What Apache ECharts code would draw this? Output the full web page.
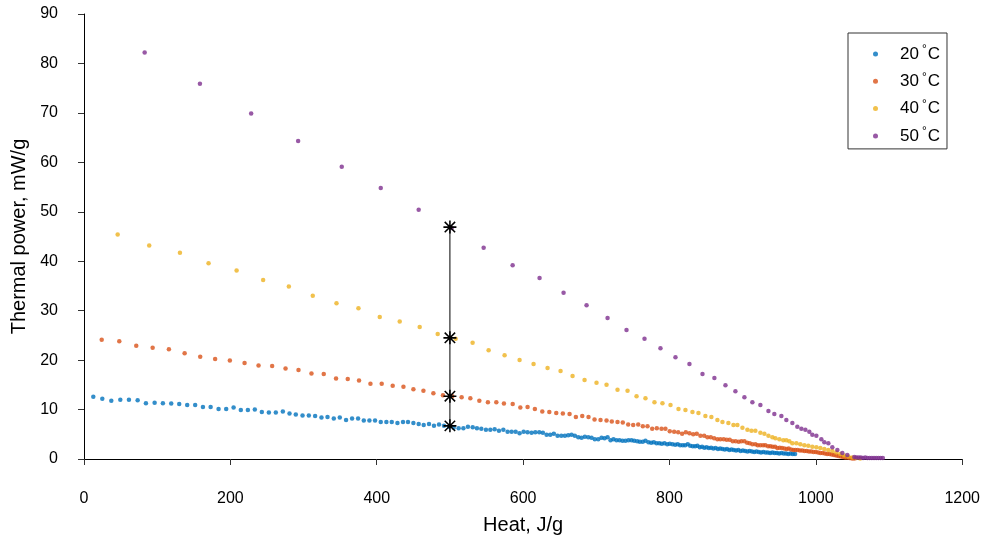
<!DOCTYPE html>
<html>
<head>
<meta charset="utf-8">
<style>
html,body{margin:0;padding:0;background:#fff;}
#chart{width:983px;height:541px;}
</style>
<script src="https://cdn.jsdelivr.net/npm/echarts@6/dist/echarts.min.js"></script>
</head>
<body>
<div id="chart"></div>
<script>
// ---- data (Heat J/g, Thermal power mW/g) ----
const seriesNames = ['20°C', '30°C', '40°C', '50°C'];
const xTicks = [0, 200, 400, 600, 800, 1000, 1200];
const yTicks = [0, 10, 20, 30, 40, 50, 60, 70, 80, 90];

const data20 = [[12.7,12.6],[25.0,12.2],[37.3,11.8],[49.6,12.0],[61.4,12.0],[73.3,11.9],[84.6,11.3],[96.5,11.4],[107.8,11.3],[119.2,11.2],[130.1,11.1],[141,10.9],[151.9,10.9],[162.5,10.5],[173,10.5],[183.9,10.1],[194.3,10.1],[204.4,10.4],[214.3,9.9],[223.9,9.9],[233.4,10.0],[243,9.5],[252.6,9.4],[262.1,9.4],[271.7,9.6],[280.8,9.2],
[289.4,9.0],[298.6,8.8],[307.2,8.8],[315.8,8.7],[324.5,8.4],[332.7,8.5],[341.3,8.2],[349.5,8.4],[358.1,7.9],[366.3,8.2],[374.5,8.2],[382.3,7.8],[390,7.8],[397.7,7.8],[405.5,7.5],[413.2,7.5],[420.5,7.5],[428.3,7.3],[435.9,7.5],[442.7,7.5],[450.1,7.3],[457.3,7.1],[464.2,6.9],[471.4,7.1],[478.2,6.7],[485.1,7.0],[491.9,6.7],[498.7,6.5],[505.1,6.3],[511.9,6.2],[518.4,6.2],[524.6,6.5],[531.1,6.4],[536.9,6.2],[542.9,6.1],[549.2,5.9],[555.2,5.9],[561.1,6.0],[567,5.7],[573,5.9],
[578.8,5.5],[584.3,5.5],[589.8,5.5],[595.2,5.2],[600.7,5.5],[606.1,5.4],[611.6,5.3],[616.7,5.4],[622.1,5.4],[627,5.3],[632.1,4.9],[637.1,4.9],[642,5.1],[647.1,4.7],[652.2,4.7],[657.1,4.7],[661.7,4.8],[666.2,4.9],[670.7,4.7],[675.4,4.4],[679.9,4.3],[684.4,4.5],[689,4.4],[693.5,4.3],[698,4.0],[702.7,4.0],[707.2,4.3],[711.3,4.2],[715.4,4.4],[719.5,3.8],[723.5,4.0],[727.6,3.8],[731.7,3.8],[735.8,3.7],[739.9,3.7],[744,3.8],[748.1,3.8],[751.8,3.7],[755.9,3.6],[759.5,3.5],[763.5,3.5],[767.2,3.7],[771.3,3.4],[775,3.3],[778.6,3.4],[782.3,3.2],[786,3.2],[789.5,3.1],[793.2,3.2],[796.9,3.0],[800.4,3.1],[804.1,3.0],[807.8,2.9],[811.3,3.0],[814.6,2.8],[818.2,2.8],[821.4,2.8],[825,3.0],[828.3,2.7],[831.8,2.6],[835.1,2.6],[838.2,2.7],[841.4,2.4],
[844.5,2.5],[847.6,2.3],[850.7,2.4],[853.8,2.2],[856.9,2.3],[860,2.1],[863.1,2.2],[866.2,2.0],[869.3,2.1],[872.4,2.0],[875.5,1.9],[878.6,2.0],[881.7,1.8],[884.8,1.9],[887.9,1.8],[891,1.7],[894.1,1.8],[897.2,1.6],[900.3,1.7],[903.4,1.6],[906.5,1.5],[909.6,1.6],[912.7,1.5],[915.8,1.4],[918.9,1.5],[922,1.4],[925.1,1.3],[928.2,1.4],[931.3,1.3],[934.4,1.3],[937.5,1.2],[940.6,1.3],[943.7,1.2],[946.8,1.2],[949.9,1.1],[953,1.2],[956.1,1.1],[959.2,1.1],[962.3,1.0],[965.4,1.1],[968.5,1.0],[971.6,1.0]];

const data30 = [[24.2,24.1],[48.2,23.8],[71.4,22.9],[93.8,22.5],[116,22.2],[137.5,21.4],[158.8,20.7],[179.2,20.2],[199.3,19.9],[219.4,19.4],[238.5,18.9],[257.1,18.8],[275.4,18.3],[293.1,18.0],[310.8,17.3],[327.6,17.2],[344.4,16.3],[360.4,16.2],[375.8,15.9],[391.4,15.2],[406.8,15.2],[421.8,14.8],[436.5,14.6],[450.1,14.1],[463.8,13.8],[477.4,13.3],[490.5,12.9],[503.3,12.7],[516,12.5],[527.9,12.3],[540.2,11.8],[551.9,11.5],[563.4,11.5],[573.8,11.2],[585.8,11.1],[596.2,10.4],[606.1,10.5],[616.1,10.1],[626.2,9.6],[635.8,9.5],[645.3,9.3],[654.3,9.2],[663.5,9.1],[672.1,8.5],[680.8,8.7],[689.4,8.5],[697.6,8.0],[705.8,7.9],[714,7.8],[721.2,7.6],[729,7.5],[736.2,7.4],[743.6,7.0],[750.4,6.9],[757.3,7.0],[763.6,6.6],[770,6.6],[776.4,6.1],[782.7,6.2],[789.1,6.1],[794.5,6.1],[800.4,5.6],[806.4,5.5],[811.9,5.4],[817.3,5.1],[822.3,5.4],[827.3,5.2],[832.4,5.0],[837.3,5.1],[842.3,4.7],[847.4,4.7],[851.9,4.4],[856.4,4.4],[861,4.2],[865.5,4.0],[869.6,4.0],[874.1,4.0],[878.2,3.9],[882.3,3.9],[886.4,3.6],[890.5,3.6],[894.6,3.5],[898.3,3.6],[902.4,3.6],[906.1,3.3],[909.6,3.2],[913.3,3.0],[917.4,3.0],[920.6,2.8],[924.2,2.8],[927.9,2.8],[931.1,2.8],[934.7,2.6],[937.9,2.6],[941,2.5],[944.3,2.5],[947.4,2.2],[950.6,2.3],[953.8,2.2],[957,2.1],[960.1,2.0],[962.9,2.1],[966.1,1.9],[969.3,1.8],[972,1.8],[975.2,1.8],[978.3,1.7],[981.4,1.7],[984.5,1.6],[987.6,1.6],[990.7,1.5],[993.8,1.5],[996.9,1.4],[1000,1.4],[1003.1,1.3],[1006.2,1.2],[1009.3,1.2],[1012.4,1.1],[1015.5,1.0],[1018.6,1.0],[1021.7,0.9],[1024.8,0.8],[1027.9,0.7],[1031,0.6],[1034.1,0.5],[1037.2,0.4],[1040.3,0.3],[1043.4,0.3],[1046.5,0.2],[1049.6,0.1],[1052.7,0.1]];

const data40 = [[46.0,45.4],[89.1,43.2],[131.1,41.7],[170.2,39.6],[208.5,38.1],[244.8,36.2],[279.9,34.9],[312.6,33.0],[345.0,31.5],[375.0,30.5],[404.1,28.7],[431.4,27.8],[458.7,26.7],[483.3,25.3],[507.8,24.3],[531,23.5],[552.9,22.0],[574.7,21.0],[595.2,20.0],[614.3,19.2],[633.4,18.4],[651.2,17.8],[667.6,16.8],[684,16.0],[700.3,15.4],[714,15.0],[729,14.0],[742.7,13.8],[755,12.7],[767.2,12.3],[779.5,11.5],[790.4,11.3],[801.4,10.9],[812.3,10.1],[821.8,9.9],[831.4,9.5],[839.6,9.3],[849.1,8.7],[857.3,8.5],[865.5,7.9],[872.4,7.5],[880.5,7.3],[887.4,6.9],[892.8,6.9],[899.7,6.3],[906.5,5.9],[912,5.7],[917.4,5.7],[924.2,5.3],[929.7,5.1],[935.2,4.7],[940.6,4.4],[944.7,4.2],[950.2,4.0],[955.6,3.8],[959.7,3.8],[963.8,3.6],[967.9,3.2],[973.4,3.2],[978.8,3.0],[984.3,2.8],[989.7,2.7],[995.2,2.5],[1000.7,2.4],[1006.1,2.2],[1011.6,2.0],[1017,1.8],[1022.5,1.6],[1027.9,1.3],[1033.4,1.0],[1038.8,0.7],[1044.3,0.5],[1049.7,0.3],[1055.2,0.2],[1060.6,0.1]];

const data50 = [[82.9,82.2],[158.4,75.9],[228.4,69.9],[292.6,64.3],[352.2,59.1],[405.5,54.8],[457.3,50.4],[502.4,46.7],[546.1,42.7],[585.7,39.2],[622.5,36.6],[655.3,33.6],[686.7,31.1],[715.4,28.5],[741.3,26.1],[765.9,24.3],[787.7,22.4],[808.2,20.6],[827.3,19.2],[845.1,17.2],[861.4,16.4],[876.5,14.9],[890.1,13.7],[902.4,12.5],[913.3,11.5],[924.2,10.9],[935.2,9.7],[943.3,9.1],[952.9,8.7],[959.7,7.9],[967.9,7.3],[974.7,6.5],[980.2,6.1],[985.7,5.9],[991.1,5.5],[995.2,4.9],[1000.7,4.7],[1007.5,4.0],[1011.6,3.4],[1017.1,3.2],[1022.5,2.4],[1029.4,1.8],[1036.2,1.2],[1043,0.8],[1052.6,0.4],[1055.5,0.3],[1058.5,0.3],[1061.5,0.3],[1064.5,0.2],[1067.5,0.3],[1070.5,0.2],[1073.5,0.2],[1076.5,0.2],[1079.5,0.2],[1082.5,0.2],[1085.5,0.2],[1088.5,0.2],[1091.5,0.2]];

// marked comparison points at Heat = 500 J/g
const markHeat = [500, 500, 500, 500];
const markPower = [6.7, 12.7, 24.5, 46.9];

const colors = ['#0072BD', '#D95319', '#EDB120', '#7E2F8E'];
const allData = [data20, data30, data40, data50];

const asteriskPath = 'path://M0 44 L100 44 L100 56 L0 56 Z M44 0 L56 0 L56 100 L44 100 Z M14.2 5.8 L94.2 85.8 L85.8 94.2 L5.8 14.2 Z M85.8 5.8 L94.2 14.2 L14.2 94.2 L5.8 85.8 Z';

const FONT = 'Liberation Sans, Arial, Helvetica, sans-serif';

const chart = echarts.init(document.getElementById('chart'), null, {renderer: 'canvas'});

const series = seriesNames.map((name, i) => ({
  name: name,
  type: 'scatter',
  data: allData[i],
  symbol: 'circle',
  symbolSize: 4.5,
  itemStyle: {color: colors[i]},
  emphasis: {disabled: true},
  silent: true,
  z: 2 + i
}));

series.push({
  name: 'mark',
  type: 'line',
  data: markHeat.map((h, i) => [h, markPower[i]]),
  symbol: asteriskPath,
  symbolSize: 13,
  showSymbol: true,
  lineStyle: {color: '#000', width: 1},
  itemStyle: {color: '#000'},
  emphasis: {disabled: true},
  silent: true,
  z: 10
});

chart.setOption({
  animation: false,
  backgroundColor: '#fff',
  textStyle: {fontFamily: FONT},
  grid: {left: 84, right: 20, top: 14, bottom: 82, containLabel: false},
  legend: {
    data: seriesNames.map((n, i) => ({name: n, icon: 'circle', itemStyle: {color: colors[i]}})),
    orient: 'vertical',
    left: 848,
    top: 33,
    itemWidth: 5,
    itemHeight: 5,
    itemGap: 7.3,
    itemTextGap: 5,
    padding: [11, 7, 3, 25],
    borderColor: '#333',
    borderWidth: 1,
    backgroundColor: '#fff',
    selectedMode: false,
    formatter: function (name) { return '{g| }' + name.replace('°', '{s|°}'); },
    textStyle: {
      fontFamily: FONT,
      fontSize: 17,
      color: '#000',
      lineHeight: 20,
      rich: {
        g: {width: 17, fontSize: 17, lineHeight: 20},
        s: {fontSize: 12, fontFamily: FONT, color: '#000', verticalAlign: 'top', padding: [0, 1, 0, 3], lineHeight: 20}
      }
    }
  },
  xAxis: {
    type: 'value',
    min: 0,
    max: 1200,
    interval: 200,
    name: 'Heat, J/g',
    nameLocation: 'middle',
    nameGap: 56,
    nameTextStyle: {fontSize: 20, color: '#000', fontFamily: FONT},
    axisLine: {show: true, onZero: false, lineStyle: {color: '#000', width: 1}},
    axisTick: {show: true, length: 6, inside: false, lineStyle: {color: '#333'}},
    axisLabel: {fontSize: 16, color: '#000', margin: 32, fontFamily: FONT,
      formatter: v => xTicks.includes(v) ? String(v) : ''},
    splitLine: {show: false}
  },
  yAxis: {
    type: 'value',
    min: 0,
    max: 90,
    interval: 10,
    name: 'Thermal power, mW/g',
    nameLocation: 'middle',
    nameGap: 49,
    nameRotate: 90,
    nameTextStyle: {fontSize: 20, color: '#000', fontFamily: FONT},
    axisLine: {show: true, onZero: false, lineStyle: {color: '#000', width: 1}},
    axisTick: {show: true, length: 6, inside: false, lineStyle: {color: '#333'}},
    axisLabel: {fontSize: 16, color: '#000', margin: 26, fontFamily: FONT,
      formatter: v => yTicks.includes(v) ? String(v) : ''},
    splitLine: {show: false}
  },
  series: series
});
</script>
</body>
</html>
